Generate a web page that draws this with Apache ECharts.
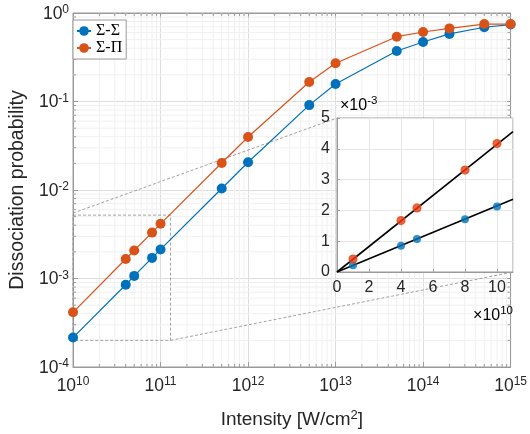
<!DOCTYPE html>
<html><head><meta charset="utf-8">
<script src="https://cdn.jsdelivr.net/npm/echarts@6/dist/echarts.min.js"></script>
<style>html,body{margin:0;padding:0;background:#fff}#c{width:530px;height:434px}</style>
</head><body><div id="c"></div>
<script>
// ---- data ----
const intensity = [1e10, 4e10, 5e10, 8e10, 1e11, 5e11, 1e12, 5e12, 1e13, 5e13, 1e14, 2e14, 5e14, 1e15];
const probSigmaSigma = [2.15e-4, 8.5e-4, 1.07e-3, 1.71e-3, 2.13e-3, 1.04e-2, 2.06e-2, 9.1e-2, 0.158, 0.372, 0.47, 0.58, 0.69, 0.74];
const probSigmaPi = [4.15e-4, 1.66e-3, 2.07e-3, 3.3e-3, 4.15e-3, 2.02e-2, 3.97e-2, 0.166, 0.27, 0.54, 0.61, 0.67, 0.75, 0.75];
const seriesNames = ['Σ-Σ', 'Σ-Π'];
// inset (x in units of 1e10, y in units of 1e-3)
const insetX = [1, 4, 5, 8, 10];
const insetSigmaSigma = [0.22, 0.85, 1.07, 1.71, 2.13];
const insetSigmaPi = [0.42, 1.67, 2.08, 3.31, 4.17];
const fitX = [0, 11];
const fitSigmaSigma = [0, 2.36];
const fitSigmaPi = [0, 4.56];
// zoom box drawn on main axes
const zoomBoxX = [1e10, 1.3e11];
const zoomBoxY = [2e-4, 5.2e-3];
const xDecades = [10, 11, 12, 13, 14];
const yDecades = [-4, -3, -2, -1];
const minorMult = [2, 3, 4, 5, 6, 7, 8, 9];

const BLUE = '#0072BD', ORANGE = '#D95319';
const AX = '#9a9a9a', TXT = '#262626', FONT = 'Liberation Sans';

const zip = (a, b) => a.map((v, i) => [v, b[i]]);
const expLabel = v => '{b|10}{s|' + Math.round(Math.log10(v)) + '}';
const rich = {
  b: { fontSize: 17.5, fontFamily: FONT, color: TXT, verticalAlign: 'bottom', lineHeight: 20 },
  s: { fontSize: 12, fontFamily: FONT, color: TXT, verticalAlign: 'bottom', lineHeight: 20, padding: [0, 0, 7, 0] }
};

const minorXs = [];
xDecades.forEach(d => minorMult.forEach(m => minorXs.push(m * Math.pow(10, d))));
const minorYs = [];
yDecades.forEach(d => minorMult.forEach(m => minorYs.push(m * Math.pow(10, d))));

const chart = echarts.init(document.getElementById('c'), null, { renderer: 'canvas' });

const option = {
  animation: false,
  backgroundColor: '#fff',
  grid: [
    { left: 67, top: 13, width: 446, height: 354, show: true, borderColor: AX, borderWidth: 1, backgroundColor: '#fff', z: 0 },
    { left: 337, top: 118, width: 176, height: 154, show: true, borderColor: AX, borderWidth: 1, backgroundColor: '#fff', z: 5 }
  ],
  legend: {
    data: seriesNames, left: 73, top: 20, orient: 'vertical',
    backgroundColor: '#fff', borderColor: AX, borderWidth: 1, borderRadius: 0,
    padding: [3, 4, 3, 3], itemGap: 1, itemWidth: 14, itemHeight: 12,
    textStyle: { fontFamily: 'Liberation Serif', fontSize: 16, color: '#000' }, z: 4
  },
  xAxis: [
    { type: 'log', logBase: 10, gridIndex: 0, min: 1e10, max: 1e15, position: 'bottom',
      axisLine: { show: true, lineStyle: { color: AX } },
      axisTick: { show: true, inside: true, length: 5, lineStyle: { color: AX } },
      splitLine: { show: true, lineStyle: { color: '#dedede' } },
      axisLabel: { formatter: expLabel, rich: rich, margin: 8 },
      name: 'Intensity [W/cm{s|2}]', nameLocation: 'middle', nameGap: 42,
      nameTextStyle: { fontSize: 19, fontFamily: FONT, color: TXT,
        rich: { s: { fontSize: 13, fontFamily: FONT, color: TXT, verticalAlign: 'bottom', padding: [0, 0, 8, 0] } } } },
    { type: 'log', logBase: 10, gridIndex: 0, min: 1e10, max: 1e15, position: 'top',
      axisLine: { show: true, lineStyle: { color: AX } },
      axisTick: { show: true, inside: true, length: 5, lineStyle: { color: AX } },
      splitLine: { show: false }, axisLabel: { show: false } },
    { type: 'value', gridIndex: 1, min: 0, max: 11, interval: 2, position: 'bottom', z: 6,
      axisLine: { show: true, lineStyle: { color: AX } },
      axisTick: { show: true, inside: true, length: 3, lineStyle: { color: AX } },
      splitLine: { show: true, lineStyle: { color: '#e6e6e6' } },
      axisLabel: { margin: 8, fontSize: 16, fontFamily: FONT, color: TXT, showMaxLabel: false,
        formatter: v => (v % 2 === 0 ? String(v) : '') } }
  ],
  yAxis: [
    { type: 'log', logBase: 10, gridIndex: 0, min: 1e-4, max: 1, position: 'left',
      axisLine: { show: true, lineStyle: { color: AX } },
      axisTick: { show: true, inside: true, length: 5, lineStyle: { color: AX } },
      splitLine: { show: true, lineStyle: { color: '#dedede' } },
      axisLabel: { formatter: expLabel, rich: rich, margin: 4 },
      name: 'Dissociation probability', nameLocation: 'middle', nameGap: 44,
      nameTextStyle: { fontSize: 19.5, fontFamily: FONT, color: TXT } },
    { type: 'log', logBase: 10, gridIndex: 0, min: 1e-4, max: 1, position: 'right',
      axisLine: { show: true, lineStyle: { color: AX } },
      axisTick: { show: true, inside: true, length: 5, lineStyle: { color: AX } },
      splitLine: { show: false }, axisLabel: { show: false } },
    { type: 'value', gridIndex: 1, min: 0, max: 5, interval: 1, position: 'left', z: 6,
      axisLine: { show: true, lineStyle: { color: AX } },
      axisTick: { show: true, inside: true, length: 3, lineStyle: { color: AX } },
      splitLine: { show: true, lineStyle: { color: '#e6e6e6' } },
      axisLabel: { margin: 7, fontSize: 16, fontFamily: FONT, color: TXT } }
  ],
  series: [
    { // minor log grid + minor ticks (x)
      type: 'custom', xAxisIndex: 0, yAxisIndex: 0, silent: true, z: 1,
      data: minorXs.map(v => [v, 1e-4]),
      renderItem: (params, api) => {
        const p = api.coord([api.value(0), 1e-4]);
        const cs = params.coordSys;
        return { type: 'group', children: [
          { type: 'line', shape: { x1: p[0], y1: cs.y, x2: p[0], y2: cs.y + cs.height }, style: { stroke: '#f0f0f0', lineWidth: 1 } },
          { type: 'line', shape: { x1: p[0], y1: cs.y + cs.height, x2: p[0], y2: cs.y + cs.height - 3 }, style: { stroke: AX, lineWidth: 1 } },
          { type: 'line', shape: { x1: p[0], y1: cs.y, x2: p[0], y2: cs.y + 3 }, style: { stroke: AX, lineWidth: 1 } }
        ] };
      }
    },
    { // minor log grid + minor ticks (y)
      type: 'custom', xAxisIndex: 0, yAxisIndex: 0, silent: true, z: 1,
      data: minorYs.map(v => [1e10, v]),
      renderItem: (params, api) => {
        const p = api.coord([1e10, api.value(1)]);
        const cs = params.coordSys;
        return { type: 'group', children: [
          { type: 'line', shape: { x1: cs.x, y1: p[1], x2: cs.x + cs.width, y2: p[1] }, style: { stroke: '#f0f0f0', lineWidth: 1 } },
          { type: 'line', shape: { x1: cs.x, y1: p[1], x2: cs.x + 3, y2: p[1] }, style: { stroke: AX, lineWidth: 1 } },
          { type: 'line', shape: { x1: cs.x + cs.width, y1: p[1], x2: cs.x + cs.width - 3, y2: p[1] }, style: { stroke: AX, lineWidth: 1 } }
        ] };
      }
    },
    { name: 'zoombox', type: 'line', xAxisIndex: 0, yAxisIndex: 0, silent: true, z: 2, symbol: 'none',
      data: [[zoomBoxX[0], zoomBoxY[1]], [zoomBoxX[1], zoomBoxY[1]], [zoomBoxX[1], zoomBoxY[0]], [zoomBoxX[0], zoomBoxY[0]], [zoomBoxX[0], zoomBoxY[1]]],
      lineStyle: { color: '#8a8a8a', width: 0.8, type: [3, 2] } },
    { name: seriesNames[0], type: 'line', xAxisIndex: 0, yAxisIndex: 0, z: 3,
      data: zip(intensity, probSigmaSigma), symbol: 'circle', symbolSize: 10,
      itemStyle: { color: BLUE }, lineStyle: { color: BLUE, width: 1.2 } },
    { name: seriesNames[1], type: 'line', xAxisIndex: 0, yAxisIndex: 0, z: 3,
      data: zip(intensity, probSigmaPi), symbol: 'circle', symbolSize: 10,
      itemStyle: { color: ORANGE }, lineStyle: { color: ORANGE, width: 1.2 } },
    { name: 'fitPi', type: 'line', xAxisIndex: 2, yAxisIndex: 2, z: 7, symbol: 'none', silent: true,
      data: zip(fitX, fitSigmaPi), lineStyle: { color: '#000', width: 1.6 } },
    { name: 'fitSigma', type: 'line', xAxisIndex: 2, yAxisIndex: 2, z: 7, symbol: 'none', silent: true,
      data: zip(fitX, fitSigmaSigma), lineStyle: { color: '#000', width: 1.6 } },
    { name: 'insetSigma', type: 'scatter', xAxisIndex: 2, yAxisIndex: 2, z: 8, symbolSize: 8,
      data: zip(insetX, insetSigmaSigma), itemStyle: { color: BLUE } },
    { name: 'insetPi', type: 'scatter', xAxisIndex: 2, yAxisIndex: 2, z: 8, symbolSize: 8,
      data: zip(insetX, insetSigmaPi), itemStyle: { color: '#f03a17', borderColor: ORANGE, borderWidth: 1.2 } }
  ]
};
chart.setOption(option);

// connectors & multiplier labels, positioned through the axes
const a1 = chart.convertToPixel({ xAxisIndex: 0, yAxisIndex: 0 }, [zoomBoxX[0], zoomBoxY[1]]);
const b1 = chart.convertToPixel({ xAxisIndex: 2, yAxisIndex: 2 }, [0, 5]);
const a2 = chart.convertToPixel({ xAxisIndex: 0, yAxisIndex: 0 }, [zoomBoxX[1], zoomBoxY[0]]);
const b2 = chart.convertToPixel({ xAxisIndex: 2, yAxisIndex: 2 }, [11, 0]);
const dash = { stroke: '#8a8a8a', lineWidth: 0.8, lineDash: [3, 2] };
const supRich = {
  b: { fontSize: 16, fontFamily: FONT, color: TXT, verticalAlign: 'bottom', lineHeight: 20 },
  s: { fontSize: 11.5, fontFamily: FONT, color: TXT, verticalAlign: 'bottom', lineHeight: 20, padding: [0, 0, 7, 0] }
};
chart.setOption({
  graphic: [
    { type: 'line', z: 2, silent: true, shape: { x1: a1[0], y1: a1[1] - 2, x2: b1[0], y2: b1[1] }, style: dash },
    { type: 'line', z: 2, silent: true, shape: { x1: a2[0], y1: a2[1], x2: b2[0], y2: b2[1] }, style: dash },
    { type: 'text', z: 10, x: b1[0] + 3, y: b1[1] - 4, style: { text: '{b|×10}{s|-3}', rich: supRich, textAlign: 'left', textVerticalAlign: 'bottom' } },
    { type: 'text', z: 10, x: b2[0], y: b2[1] + 52, style: { text: '{b|×10}{s|10}', rich: supRich, textAlign: 'right', textVerticalAlign: 'bottom' } }
  ]
});
</script>
</body></html>
